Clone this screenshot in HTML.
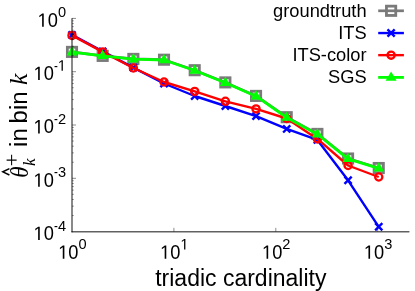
<!DOCTYPE html>
<html><head><meta charset="utf-8"><style>
html,body{margin:0;padding:0;background:#fff;}
svg{display:block;will-change:transform;font-family:"Liberation Sans",sans-serif;fill:#000;}
svg path,svg polyline,svg rect,svg circle{}
</style></head><body>
<svg width="415" height="291" viewBox="0 0 415 291">
<rect width="415" height="291" fill="#fff" stroke="none"/>
<polyline points="72.00,51.90 102.67,55.90 133.35,58.90 164.02,59.70 194.70,70.20 225.37,82.40 256.05,95.90 286.72,117.20 317.40,133.90 348.07,158.50 378.75,168.00" fill="none" stroke="#7a7a7a" stroke-width="2.7" stroke-linejoin="round"/>
<rect x="67.35" y="47.25" width="9.3" height="9.3" fill="none" stroke="#7a7a7a" stroke-width="2.8"/>
<rect x="98.02" y="51.25" width="9.3" height="9.3" fill="none" stroke="#7a7a7a" stroke-width="2.8"/>
<rect x="128.70" y="54.25" width="9.3" height="9.3" fill="none" stroke="#7a7a7a" stroke-width="2.8"/>
<rect x="159.37" y="55.05" width="9.3" height="9.3" fill="none" stroke="#7a7a7a" stroke-width="2.8"/>
<rect x="190.05" y="65.55" width="9.3" height="9.3" fill="none" stroke="#7a7a7a" stroke-width="2.8"/>
<rect x="220.72" y="77.75" width="9.3" height="9.3" fill="none" stroke="#7a7a7a" stroke-width="2.8"/>
<rect x="251.40" y="91.25" width="9.3" height="9.3" fill="none" stroke="#7a7a7a" stroke-width="2.8"/>
<rect x="282.07" y="112.55" width="9.3" height="9.3" fill="none" stroke="#7a7a7a" stroke-width="2.8"/>
<rect x="312.75" y="129.25" width="9.3" height="9.3" fill="none" stroke="#7a7a7a" stroke-width="2.8"/>
<rect x="343.42" y="153.85" width="9.3" height="9.3" fill="none" stroke="#7a7a7a" stroke-width="2.8"/>
<rect x="374.10" y="163.35" width="9.3" height="9.3" fill="none" stroke="#7a7a7a" stroke-width="2.8"/>
<polyline points="72.00,34.90 102.67,51.40 133.35,67.60 164.02,83.50 194.70,96.00 225.37,106.00 256.05,116.10 286.72,128.90 317.40,139.90 348.07,180.30 378.75,226.80" fill="none" stroke="#0000ff" stroke-width="2.4" stroke-linejoin="round"/>
<path d="M68.40 31.30L75.60 38.50M68.40 38.50L75.60 31.30" stroke="#0000ff" stroke-width="2.4" fill="none"/>
<path d="M99.07 47.80L106.27 55.00M99.07 55.00L106.27 47.80" stroke="#0000ff" stroke-width="2.4" fill="none"/>
<path d="M129.75 64.00L136.95 71.20M129.75 71.20L136.95 64.00" stroke="#0000ff" stroke-width="2.4" fill="none"/>
<path d="M160.42 79.90L167.62 87.10M160.42 87.10L167.62 79.90" stroke="#0000ff" stroke-width="2.4" fill="none"/>
<path d="M191.10 92.40L198.30 99.60M191.10 99.60L198.30 92.40" stroke="#0000ff" stroke-width="2.4" fill="none"/>
<path d="M221.77 102.40L228.97 109.60M221.77 109.60L228.97 102.40" stroke="#0000ff" stroke-width="2.4" fill="none"/>
<path d="M252.45 112.50L259.65 119.70M252.45 119.70L259.65 112.50" stroke="#0000ff" stroke-width="2.4" fill="none"/>
<path d="M283.12 125.30L290.32 132.50M283.12 132.50L290.32 125.30" stroke="#0000ff" stroke-width="2.4" fill="none"/>
<path d="M313.80 136.30L321.00 143.50M313.80 143.50L321.00 136.30" stroke="#0000ff" stroke-width="2.4" fill="none"/>
<path d="M344.47 176.70L351.67 183.90M344.47 183.90L351.67 176.70" stroke="#0000ff" stroke-width="2.4" fill="none"/>
<path d="M375.15 223.20L382.35 230.40M375.15 230.40L382.35 223.20" stroke="#0000ff" stroke-width="2.4" fill="none"/>
<polyline points="72.00,35.40 102.67,51.90 133.35,68.00 164.02,82.00 194.70,91.40 225.37,101.30 256.05,108.90 286.72,118.50 317.40,138.90 348.07,165.50 378.75,177.00" fill="none" stroke="#ff0000" stroke-width="2.4" stroke-linejoin="round"/>
<circle cx="72.00" cy="35.40" r="3.6" fill="none" stroke="#ff0000" stroke-width="2.3"/>
<circle cx="102.67" cy="51.90" r="3.6" fill="none" stroke="#ff0000" stroke-width="2.3"/>
<circle cx="133.35" cy="68.00" r="3.6" fill="none" stroke="#ff0000" stroke-width="2.3"/>
<circle cx="164.02" cy="82.00" r="3.6" fill="none" stroke="#ff0000" stroke-width="2.3"/>
<circle cx="194.70" cy="91.40" r="3.6" fill="none" stroke="#ff0000" stroke-width="2.3"/>
<circle cx="225.37" cy="101.30" r="3.6" fill="none" stroke="#ff0000" stroke-width="2.3"/>
<circle cx="256.05" cy="108.90" r="3.6" fill="none" stroke="#ff0000" stroke-width="2.3"/>
<circle cx="286.72" cy="118.50" r="3.6" fill="none" stroke="#ff0000" stroke-width="2.3"/>
<circle cx="317.40" cy="138.90" r="3.6" fill="none" stroke="#ff0000" stroke-width="2.3"/>
<circle cx="348.07" cy="165.50" r="3.6" fill="none" stroke="#ff0000" stroke-width="2.3"/>
<circle cx="378.75" cy="177.00" r="3.6" fill="none" stroke="#ff0000" stroke-width="2.3"/>
<polyline points="72.00,52.20 102.67,55.80 133.35,59.20 164.02,60.00 194.70,70.50 225.37,82.70 256.05,96.20 286.72,117.50 317.40,134.20 348.07,158.80 378.75,168.30" fill="none" stroke="#00ff00" stroke-width="2.8" stroke-linejoin="round"/>
<path d="M72.00 46.20L66.50 55.45L77.50 55.45Z" fill="#00ff00"/>
<path d="M102.67 49.80L97.17 59.05L108.17 59.05Z" fill="#00ff00"/>
<path d="M133.35 53.20L127.85 62.45L138.85 62.45Z" fill="#00ff00"/>
<path d="M164.02 54.00L158.52 63.25L169.52 63.25Z" fill="#00ff00"/>
<path d="M194.70 64.50L189.20 73.75L200.20 73.75Z" fill="#00ff00"/>
<path d="M225.37 76.70L219.87 85.95L230.87 85.95Z" fill="#00ff00"/>
<path d="M256.05 90.20L250.55 99.45L261.55 99.45Z" fill="#00ff00"/>
<path d="M286.72 111.50L281.22 120.75L292.22 120.75Z" fill="#00ff00"/>
<path d="M317.40 128.20L311.90 137.45L322.90 137.45Z" fill="#00ff00"/>
<path d="M348.07 152.80L342.57 162.05L353.57 162.05Z" fill="#00ff00"/>
<path d="M378.75 162.30L373.25 171.55L384.25 171.55Z" fill="#00ff00"/>
<path d="M72.0 18.7V231.65" fill="none" stroke="rgba(0,0,0,0.62)" stroke-width="1.5" stroke-linecap="round"/>
<path d="M72.0 231.65H408.9" fill="none" stroke="rgba(0,0,0,0.62)" stroke-width="1.5" stroke-linecap="round"/>
<path d="M72.0 18.40h4" stroke="rgba(0,0,0,0.45)" stroke-width="1"/>
<path d="M72.0 55.66h1.8" stroke="rgba(0,0,0,0.45)" stroke-width="0.9"/>
<path d="M72.0 46.27h1.8" stroke="rgba(0,0,0,0.45)" stroke-width="0.9"/>
<path d="M72.0 39.61h1.8" stroke="rgba(0,0,0,0.45)" stroke-width="0.9"/>
<path d="M72.0 34.44h1.8" stroke="rgba(0,0,0,0.45)" stroke-width="0.9"/>
<path d="M72.0 30.22h1.8" stroke="rgba(0,0,0,0.45)" stroke-width="0.9"/>
<path d="M72.0 26.66h1.8" stroke="rgba(0,0,0,0.45)" stroke-width="0.9"/>
<path d="M72.0 23.57h1.8" stroke="rgba(0,0,0,0.45)" stroke-width="0.9"/>
<path d="M72.0 20.84h1.8" stroke="rgba(0,0,0,0.45)" stroke-width="0.9"/>
<path d="M72.0 71.70h4" stroke="rgba(0,0,0,0.45)" stroke-width="1"/>
<path d="M72.0 108.96h1.8" stroke="rgba(0,0,0,0.45)" stroke-width="0.9"/>
<path d="M72.0 99.57h1.8" stroke="rgba(0,0,0,0.45)" stroke-width="0.9"/>
<path d="M72.0 92.91h1.8" stroke="rgba(0,0,0,0.45)" stroke-width="0.9"/>
<path d="M72.0 87.74h1.8" stroke="rgba(0,0,0,0.45)" stroke-width="0.9"/>
<path d="M72.0 83.52h1.8" stroke="rgba(0,0,0,0.45)" stroke-width="0.9"/>
<path d="M72.0 79.96h1.8" stroke="rgba(0,0,0,0.45)" stroke-width="0.9"/>
<path d="M72.0 76.87h1.8" stroke="rgba(0,0,0,0.45)" stroke-width="0.9"/>
<path d="M72.0 74.14h1.8" stroke="rgba(0,0,0,0.45)" stroke-width="0.9"/>
<path d="M72.0 125.00h4" stroke="rgba(0,0,0,0.45)" stroke-width="1"/>
<path d="M72.0 162.26h1.8" stroke="rgba(0,0,0,0.45)" stroke-width="0.9"/>
<path d="M72.0 152.87h1.8" stroke="rgba(0,0,0,0.45)" stroke-width="0.9"/>
<path d="M72.0 146.21h1.8" stroke="rgba(0,0,0,0.45)" stroke-width="0.9"/>
<path d="M72.0 141.04h1.8" stroke="rgba(0,0,0,0.45)" stroke-width="0.9"/>
<path d="M72.0 136.82h1.8" stroke="rgba(0,0,0,0.45)" stroke-width="0.9"/>
<path d="M72.0 133.26h1.8" stroke="rgba(0,0,0,0.45)" stroke-width="0.9"/>
<path d="M72.0 130.17h1.8" stroke="rgba(0,0,0,0.45)" stroke-width="0.9"/>
<path d="M72.0 127.44h1.8" stroke="rgba(0,0,0,0.45)" stroke-width="0.9"/>
<path d="M72.0 178.30h4" stroke="rgba(0,0,0,0.45)" stroke-width="1"/>
<path d="M72.0 215.56h1.8" stroke="rgba(0,0,0,0.45)" stroke-width="0.9"/>
<path d="M72.0 206.17h1.8" stroke="rgba(0,0,0,0.45)" stroke-width="0.9"/>
<path d="M72.0 199.51h1.8" stroke="rgba(0,0,0,0.45)" stroke-width="0.9"/>
<path d="M72.0 194.34h1.8" stroke="rgba(0,0,0,0.45)" stroke-width="0.9"/>
<path d="M72.0 190.12h1.8" stroke="rgba(0,0,0,0.45)" stroke-width="0.9"/>
<path d="M72.0 186.56h1.8" stroke="rgba(0,0,0,0.45)" stroke-width="0.9"/>
<path d="M72.0 183.47h1.8" stroke="rgba(0,0,0,0.45)" stroke-width="0.9"/>
<path d="M72.0 180.74h1.8" stroke="rgba(0,0,0,0.45)" stroke-width="0.9"/>
<path d="M173.90 231.65v-3.8" stroke="rgba(0,0,0,0.45)" stroke-width="1"/>
<path d="M275.80 231.65v-3.8" stroke="rgba(0,0,0,0.45)" stroke-width="1"/>
<path d="M377.70 231.65v-3.8" stroke="rgba(0,0,0,0.45)" stroke-width="1"/>
<path d="M378.2 10.8H403.9" stroke="#7a7a7a" stroke-width="2.7"/>
<path d="M378.2 33.05H403.9" stroke="#0000ff" stroke-width="2.4"/>
<path d="M378.2 55.15H403.9" stroke="#ff0000" stroke-width="2.4"/>
<path d="M378.2 77.4H403.9" stroke="#00ff00" stroke-width="2.8"/>
<rect x="386.45" y="6.15" width="9.3" height="9.3" fill="none" stroke="#7a7a7a" stroke-width="2.8"/>
<path d="M387.50 29.45L394.70 36.65M387.50 36.65L394.70 29.45" stroke="#0000ff" stroke-width="2.4" fill="none"/>
<circle cx="391.10" cy="55.15" r="3.6" fill="none" stroke="#ff0000" stroke-width="2.3"/>
<path d="M391.10 71.40L385.60 80.65L396.60 80.65Z" fill="#00ff00"/>
<text transform="translate(366.60,17.20) scale(1,1.045)" text-anchor="end" font-size="18.3" >groundtruth</text>
<text transform="translate(366.60,39.30) scale(1,1.045)" text-anchor="end" font-size="18.3" >ITS</text>
<text transform="translate(366.60,61.30) scale(1,1.045)" text-anchor="end" font-size="18.3" >ITS-color</text>
<text transform="translate(366.60,83.30) scale(1,1.045)" text-anchor="end" font-size="18.3" >SGS</text>
<path transform="translate(37.52,26.80) scale(0.00894,-0.00943)" d="M515 0V1237L197 1010V1180L530 1409H696V0Z" fill="#000"/>
<text transform="translate(47.70,26.80) scale(1,1.055)" font-size="18.3">0</text>
<text transform="translate(57.88,17.40) scale(1,1.04)" font-size="14.6">0</text>
<path transform="translate(33.53,80.10) scale(0.00894,-0.00943)" d="M515 0V1237L197 1010V1180L530 1409H696V0Z" fill="#000"/>
<text transform="translate(43.71,80.10) scale(1,1.055)" font-size="18.3">0</text>
<text transform="translate(53.99,70.70) scale(0.8,1.04)" font-size="14.6">-</text>
<path transform="translate(57.88,70.70) scale(0.00713,-0.00741)" d="M515 0V1237L197 1010V1180L530 1409H696V0Z" fill="#000"/>
<path transform="translate(33.53,133.40) scale(0.00894,-0.00943)" d="M515 0V1237L197 1010V1180L530 1409H696V0Z" fill="#000"/>
<text transform="translate(43.71,133.40) scale(1,1.055)" font-size="18.3">0</text>
<text transform="translate(53.99,124.00) scale(0.8,1.04)" font-size="14.6">-</text>
<text transform="translate(57.88,124.00) scale(1,1.04)" font-size="14.6">2</text>
<path transform="translate(33.53,186.70) scale(0.00894,-0.00943)" d="M515 0V1237L197 1010V1180L530 1409H696V0Z" fill="#000"/>
<text transform="translate(43.71,186.70) scale(1,1.055)" font-size="18.3">0</text>
<text transform="translate(53.99,177.30) scale(0.8,1.04)" font-size="14.6">-</text>
<text transform="translate(57.88,177.30) scale(1,1.04)" font-size="14.6">3</text>
<path transform="translate(33.53,240.00) scale(0.00894,-0.00943)" d="M515 0V1237L197 1010V1180L530 1409H696V0Z" fill="#000"/>
<text transform="translate(43.71,240.00) scale(1,1.055)" font-size="18.3">0</text>
<text transform="translate(53.99,230.60) scale(0.8,1.04)" font-size="14.6">-</text>
<text transform="translate(57.88,230.60) scale(1,1.04)" font-size="14.6">4</text>
<path transform="translate(58.16,258.80) scale(0.00894,-0.00943)" d="M515 0V1237L197 1010V1180L530 1409H696V0Z" fill="#000"/>
<text transform="translate(68.34,258.80) scale(1,1.055)" font-size="18.3">0</text>
<text transform="translate(78.52,249.40) scale(1,1.04)" font-size="14.6">0</text>
<path transform="translate(160.06,258.80) scale(0.00894,-0.00943)" d="M515 0V1237L197 1010V1180L530 1409H696V0Z" fill="#000"/>
<text transform="translate(170.24,258.80) scale(1,1.055)" font-size="18.3">0</text>
<path transform="translate(180.42,249.40) scale(0.00713,-0.00741)" d="M515 0V1237L197 1010V1180L530 1409H696V0Z" fill="#000"/>
<path transform="translate(261.96,258.80) scale(0.00894,-0.00943)" d="M515 0V1237L197 1010V1180L530 1409H696V0Z" fill="#000"/>
<text transform="translate(272.14,258.80) scale(1,1.055)" font-size="18.3">0</text>
<text transform="translate(282.32,249.40) scale(1,1.04)" font-size="14.6">2</text>
<path transform="translate(363.86,258.80) scale(0.00894,-0.00943)" d="M515 0V1237L197 1010V1180L530 1409H696V0Z" fill="#000"/>
<text transform="translate(374.04,258.80) scale(1,1.055)" font-size="18.3">0</text>
<text transform="translate(384.22,249.40) scale(1,1.04)" font-size="14.6">3</text>
<text transform="translate(240.80,285.80) scale(1,1.045)" text-anchor="middle" font-size="23.0" >triadic cardinality</text>
<g transform="translate(26.5,178.5) rotate(-90)"><text transform="translate(0.8,1.0) scale(0.93,1)" font-family="Liberation Serif" font-style="italic" font-size="24.8">θ</text><path d="M3.5 -17.1L6.7 -23.7L9.9 -17.1" fill="none" stroke="#000" stroke-width="1.5" stroke-linejoin="miter"/><text transform="translate(12.5,8.2) scale(1.05,1)" font-family="Liberation Serif" font-style="italic" font-size="16.3">k</text><text transform="translate(12.07,-7.3) scale(1.05,1)" font-family="Liberation Serif" font-size="21.5">+</text><text transform="translate(31.6,0) scale(1.04,1)" font-size="23">in</text><text transform="translate(55.1,0) scale(1.04,1)" font-size="23">bin</text><text transform="translate(93.5,0) scale(1.05,1)" font-family="Liberation Serif" font-style="italic" font-size="24.5">k</text></g>
</svg>
</body></html>
